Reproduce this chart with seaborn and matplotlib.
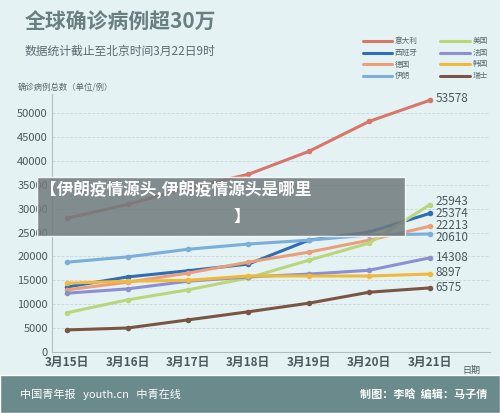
import seaborn as sns
import matplotlib.pyplot as plt
import pandas as pd

dates = ["3月15日", "3月16日", "3月17日", "3月18日", "3月19日", "3月20日", "3月21日"]
italy = [28000, 30900, 34300, 37200, 42000, 48300, 52700]
spain = [13600, 15700, 17000, 18400, 23400, 25100, 29000]
germany = [13000, 14600, 16500, 18800, 20900, 23400, 26300]
usa = [8200, 10900, 13000, 15500, 19200, 22800, 30800]
france = [12300, 13200, 14800, 15700, 16300, 17100, 19700]
korea = [14400, 14800, 15000, 15900, 15900, 15900, 16300]
iran = [18800, 19900, 21500, 22600, 23400, 24500, 24700]
swiss = [4600, 5000, 6700, 8400, 10200, 12500, 13400]
end_labels = {"意大利": "53578", "美国": "25943", "西班牙": "25374", "德国": "22213",
              "伊朗": "20610", "法国": "14308", "韩国": "8897", "瑞士": "6575"}

series = {"意大利": italy, "西班牙": spain, "德国": germany, "伊朗": iran,
          "美国": usa, "法国": france, "韩国": korea, "瑞士": swiss}
colors = {"意大利": "#d9756a", "西班牙": "#2f6db5", "德国": "#e9a07a", "伊朗": "#7aaedb",
          "美国": "#b9d67a", "法国": "#8c8fd0", "韩国": "#f0b93c", "瑞士": "#7a5544"}

rows = []
for name, vals in series.items():
    for i, v in enumerate(vals):
        rows.append({"国家": name, "x": i, "v": v})
df = pd.DataFrame(rows)

sns.set_style("white")
plt.rcParams['font.family'] = ['Noto Sans CJK SC', 'DejaVu Sans']
bg = "#e4f2f4"
fig = plt.figure(figsize=(5, 4.13), dpi=100, facecolor=bg)
ax = fig.add_axes([0.104, 0.148, 0.876, 0.624], facecolor=bg)
sns.lineplot(data=df, x="x", y="v", hue="国家", palette=colors, marker="o",
             markersize=4, markeredgewidth=0, linewidth=2.2, legend=False, ax=ax)

ax.set_xlim(-0.25, 7.0)
ax.set_ylim(0, 54000)
ax.set_yticks(range(0, 50001, 5000))
ax.set_yticklabels([str(t) for t in range(0, 50001, 5000)], fontsize=8, color="#4a5a5c")
ax.set_xticks(range(7))
ax.set_xticklabels(dates, fontsize=8.5, fontweight="bold", color="#4a5a5c")
ax.tick_params(length=0, pad=3)
ax.grid(axis="y", color="#c8d8da", linestyle="--", linewidth=0.6)
for s in ["top", "right"]:
    ax.spines[s].set_visible(False)
ax.spines["left"].set_color("#b0c0c2")
ax.spines["bottom"].set_color("#b0c0c2")
ax.set_xlabel("")
ax.set_ylabel("")

# end labels, stacked like the reference
label_y = {"意大利": 53000, "美国": 31600, "西班牙": 29000, "德国": 26500,
           "伊朗": 24000, "法国": 19800, "韩国": 16600, "瑞士": 13400}
for name in series:
    ax.text(6.1, label_y[name], end_labels[name], fontsize=8.5,
            color="#4a5a5c", va="center")
ax.text(6.55, -3800, "日期", fontsize=6.5, color="#4a5a5c", va="center")

fig.text(0.05, 0.945, "全球确诊病例超30万", fontsize=15, fontweight="bold", color="#6a7f80", va="center")
fig.text(0.05, 0.875, "数据统计截止至北京时间3月22日9时", fontsize=8.5, color="#5a6a6c", va="center")
fig.text(0.035, 0.79, "确诊病例总数（单位/例）", fontsize=6, color="#5a6a6c", va="center")

# legend
legend_order = [("意大利", "美国"), ("西班牙", "法国"), ("德国", "韩国"), ("伊朗", "瑞士")]
for r, pair in enumerate(legend_order):
    for c, name in enumerate(pair):
        x0 = 0.725 + c * 0.155
        y0 = 0.9 - r * 0.028
        fig.add_artist(plt.Line2D([x0, x0 + 0.06], [y0, y0], color=colors[name], lw=2.2))
        fig.text(x0 + 0.065, y0, name, fontsize=5.5, color="#5a6a6c", va="center")

# banner overlay
fig.patches.append(plt.Rectangle((0.074, 0.428), 0.736, 0.143, transform=fig.transFigure,
                                 facecolor="#707a7c", alpha=0.85, zorder=5))
fig.text(0.08, 0.54, "【伊朗疫情源头,伊朗疫情源头是哪里", fontsize=12, fontweight="bold",
         color="white", va="center", zorder=6)
fig.text(0.468, 0.475, "】", fontsize=12, fontweight="bold", color="white", va="center", zorder=6)

# footer
fig.patches.append(plt.Rectangle((0, 0), 1, 0.092, transform=fig.transFigure,
                                 facecolor="#6a8a8c", zorder=1))
fig.text(0.04, 0.045, "中国青年报   youth.cn   中青在线", fontsize=8, color="white", va="center")
fig.text(0.975, 0.045, "制图：李晗  编辑：马子倩", fontsize=8, fontweight="bold",
         color="white", va="center", ha="right")

fig.savefig("out.png", dpi=100, facecolor=bg)
